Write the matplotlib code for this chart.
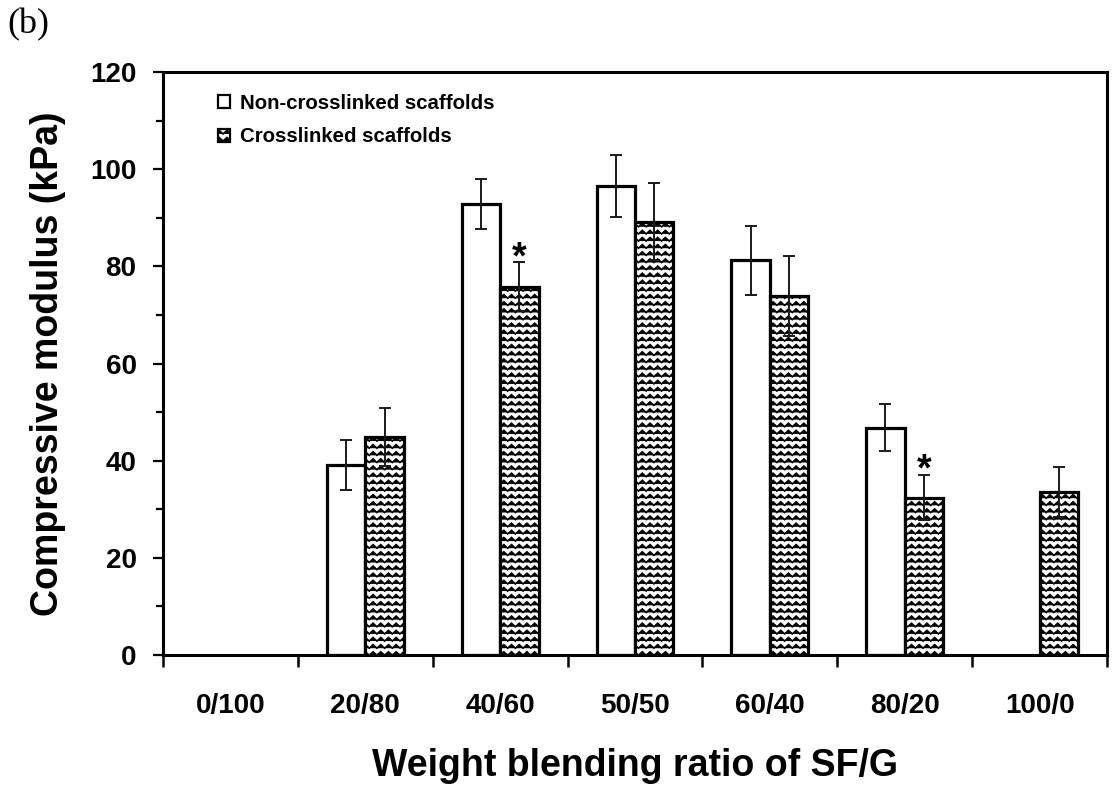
import warnings
import numpy as np
import matplotlib
matplotlib.use("Agg")
import matplotlib.pyplot as plt
import matplotlib.hatch as mhatch
from matplotlib.path import Path
from matplotlib.ticker import MultipleLocator, FixedLocator

warnings.filterwarnings("ignore")

# ---------------- data ----------------
categories = ['0/100', '20/80', '40/60', '50/50', '60/40', '80/20', '100/0']
noncross = [np.nan, 39.1, 92.8, 96.5, 81.3, 46.8, np.nan]
noncross_err = [np.nan, 5.2, 5.2, 6.4, 7.1, 4.9, np.nan]
cross = [np.nan, 44.9, 75.8, 89.2, 73.9, 32.4, 33.5]
cross_err = [np.nan, 5.9, 5.0, 7.9, 8.2, 4.7, 5.1]
significant = [False, False, True, False, False, True, False]
series_labels = ['Non-crosslinked scaffolds', 'Crosslinked scaffolds']


# ---------------- custom zigzag hatch ----------------
class ZigzagHatch(mhatch.HatchPatternBase):
    def __init__(self, hatch, density):
        n = hatch.count('z')
        self.num_rows = 14 * n
        self.num_periods = 13
        self.num_vertices = self.num_rows * (2 * self.num_periods + 1) if n else 0

    def set_vertices_and_codes(self, vertices, codes):
        npts = 2 * self.num_periods + 1
        xs = np.linspace(0, 1, npts)
        amp = 0.5 / self.num_rows * 0.5
        offs = np.where(np.arange(npts) % 2 == 0, -amp, amp)
        k = 0
        for i in range(self.num_rows):
            yc = (i + 0.5) / self.num_rows
            vertices[k:k + npts, 0] = xs
            vertices[k:k + npts, 1] = yc + offs
            codes[k] = Path.MOVETO
            codes[k + 1:k + npts] = Path.LINETO
            k += npts


mhatch._hatch_types.append(ZigzagHatch)

plt.rcParams['font.family'] = ['Liberation Sans', 'DejaVu Sans']
plt.rcParams['font.weight'] = 'bold'
plt.rcParams['hatch.linewidth'] = 1.2

fig = plt.figure(figsize=(11.14, 7.89), dpi=100)
ax = fig.add_axes([163 / 1114, (789 - 655) / 789, 944 / 1114, 583 / 789])

x = np.arange(len(categories))
w = 0.285
nc = np.array(noncross, dtype=float)
nce = np.array(noncross_err, dtype=float)
cr = np.array(cross, dtype=float)
cre = np.array(cross_err, dtype=float)
m1 = np.isfinite(nc)
m2 = np.isfinite(cr)

ax.bar(x[m1] - w / 2, nc[m1], w, color='white', edgecolor='black',
       linewidth=2.3, label=series_labels[0], zorder=2)
ax.bar(x[m2] + w / 2, cr[m2], w, color='white', edgecolor='black',
       linewidth=2.3, hatch='z', label=series_labels[1], zorder=2)

ekw = dict(fmt='none', ecolor='#1a1a1a', elinewidth=1.4, capsize=4.3,
           capthick=1.4, zorder=3)
ax.errorbar(x[m1] - w / 2, nc[m1], yerr=nce[m1], **ekw)
ax.errorbar(x[m2] + w / 2, cr[m2], yerr=cre[m2], **ekw)

for i, sig in enumerate(significant):
    if sig:
        ax.annotate('*', xy=(x[i] + w / 2, cr[i] + cre[i]), xytext=(0, -4),
                    textcoords='offset points', ha='center', va='baseline',
                    fontsize=27, fontweight='bold')

ax.set_xlim(-0.5, len(categories) - 0.5)
ax.set_ylim(0, 120)

ax.yaxis.set_major_locator(MultipleLocator(20))
ax.yaxis.set_minor_locator(MultipleLocator(10))
ax.xaxis.set_major_locator(FixedLocator(x))
ax.set_xticklabels(categories)
ax.xaxis.set_minor_locator(FixedLocator(np.arange(len(categories) + 1) - 0.5))

ax.tick_params(axis='x', which='major', length=0, pad=27, labelsize=20)
ax.tick_params(axis='x', which='minor', length=8.5, width=1.8, direction='out')
ax.tick_params(axis='y', which='major', length=7.5, width=1.6, direction='out',
               pad=11.5, labelsize=20)
ax.tick_params(axis='y', which='minor', length=5, width=1.6, direction='out')
for lab in ax.get_xticklabels() + ax.get_yticklabels():
    lab.set_fontweight('bold')

for sp in ax.spines.values():
    sp.set_linewidth(2.2)

ax.set_xlabel('Weight blending ratio of SF/G', fontsize=27, fontweight='bold')
ax.set_ylabel('Compressive modulus (kPa)', fontsize=27, fontweight='bold')
ax.xaxis.set_label_coords(0.5, -0.16)
ax.yaxis.set_label_coords(-0.103, 0.5)

leg = ax.legend(loc='upper left', bbox_to_anchor=(0.058, 0.963), frameon=False,
                borderpad=0, borderaxespad=0, handlelength=0.6, handleheight=0.6,
                handletextpad=0.5, labelspacing=0.72,
                prop={'size': 14.7, 'weight': 'bold'})
for p in leg.get_patches():
    p.set_linewidth(1.6)

fig.text(7 / 1114, 1 - 8 / 789, '(b)', ha='left', va='top',
         family='Liberation Serif', fontweight='normal', fontsize=26)

fig.savefig('out.png', dpi=100, facecolor='white')
